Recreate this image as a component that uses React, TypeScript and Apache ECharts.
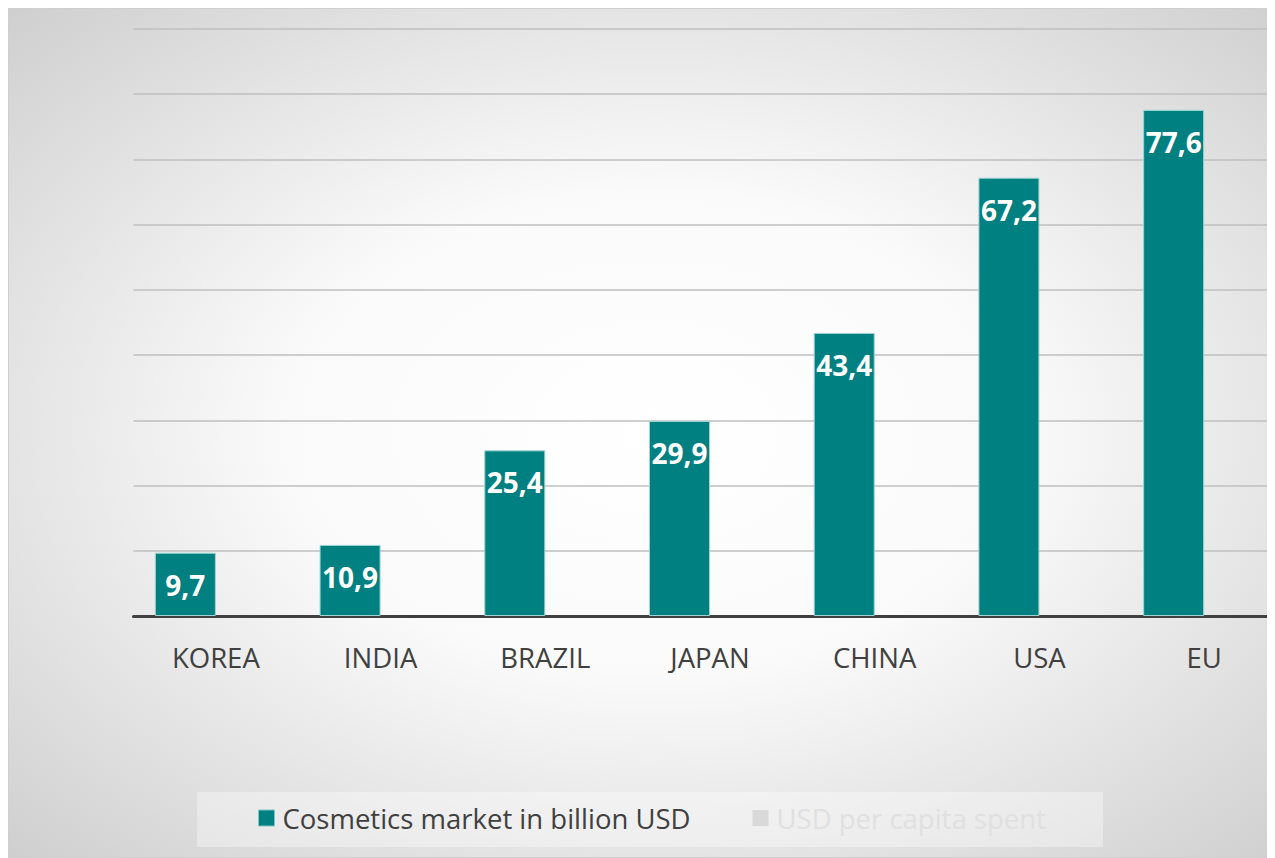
import React, { useEffect, useRef } from "react";
import * as echarts from "echarts";

const categories = ["KOREA", "INDIA", "BRAZIL", "JAPAN", "CHINA", "USA", "EU"];
const marketValues = [9.7, 10.9, 25.4, 29.9, 43.4, 67.2, 77.6];
const perCapitaValues: (number | null)[] = [];
const seriesNames = ["Cosmetics market in billion USD", "USD per capita spent"];
const yMin = 0;
const yMax = 90;
const yInterval = 10;

export default function App() {
  const ref = useRef<HTMLDivElement>(null);
  useEffect(() => {
    document.documentElement.style.overflow = "hidden";
    document.body.style.overflow = "hidden";
    const chart = echarts.init(ref.current!, null, { renderer: "svg" });
    chart.setOption({
      animation: false,
      backgroundColor: {
        type: "radial",
        x: 0.5,
        y: 0.5,
        r: 0.95,
        colorStops: [
          { offset: 0, color: "#ffffff" },
          { offset: 0.3, color: "#fafafa" },
          { offset: 1, color: "#b6b6b6" },
        ],
      },
      graphic: [
        {
          type: "rect",
          left: 188,
          top: 783,
          shape: { width: 906, height: 55 },
          style: { fill: "rgba(255,255,255,0.35)" },
          z: -1,
        },
      ],
      legend: {
        left: 244,
        top: 790,
        icon: "rect",
        itemWidth: 16,
        itemHeight: 16,
        itemGap: 62,
        textStyle: { fontFamily: "Open Sans", fontSize: 27.5, color: "#404040", padding: [0, 0, 0, 3] },
        data: [
          { name: seriesNames[0], itemStyle: { color: "#008080", borderColor: "#7fc4c4", borderWidth: 1 } },
          { name: seriesNames[1], itemStyle: { color: "#d9d9d9" }, textStyle: { color: "#e0e0e0", padding: [0, 0, 0, 3] } },
        ],
      },
      grid: { left: 124.5, right: 10.5, top: 20, bottom: 241 },
      xAxis: {
        type: "category",
        data: categories,
        axisLine: { lineStyle: { color: "#404040", width: 3 } },
        axisTick: { show: false },
        axisLabel: { fontFamily: "Open Sans", fontSize: 27.5, color: "#404040", margin: 27 },
      },
      yAxis: {
        type: "value",
        min: yMin,
        max: yMax,
        interval: yInterval,
        axisLabel: { show: false },
        axisLine: { show: false },
        axisTick: { show: false },
        splitLine: { lineStyle: { color: "#bfbfbf", width: 1.5 } },
      },
      series: [
        {
          name: seriesNames[0],
          type: "bar",
          data: marketValues,
          barWidth: 61,
          barGap: "0%",
          itemStyle: { color: "#008080", borderColor: "#9fd3d3", borderWidth: 1 },
          label: {
            show: true,
            position: "insideTop",
            distance: 18,
            color: "#ffffff",
            fontFamily: "Open Sans",
            fontWeight: "bold",
            fontSize: 28,
            formatter: (p: any) => String(p.value).replace(".", ","),
          },
        },
        {
          name: seriesNames[1],
          type: "bar",
          data: perCapitaValues,
          barWidth: 61,
          barGap: "0%",
          itemStyle: { color: "#d9d9d9" },
        },
      ],
    });
    return () => chart.dispose();
  }, []);
  return (
    <div
      ref={ref}
      style={{ width: 1290, height: 850, border: "1px solid #cfcfcf", boxSizing: "border-box" }}
    />
  );
}
